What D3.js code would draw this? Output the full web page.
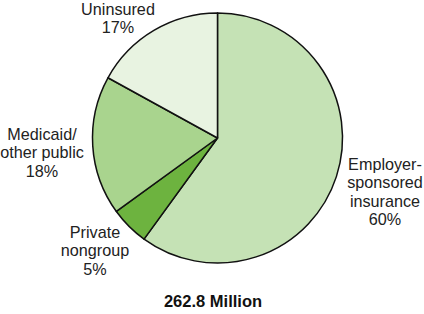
<!DOCTYPE html>
<html><head><meta charset="utf-8">
<script src="https://cdn.jsdelivr.net/npm/d3@7/dist/d3.min.js"></script>
<style>body{margin:0;background:#fff}svg{display:block}text{font-family:"Liberation Sans",Arial,Helvetica,sans-serif}</style>
</head><body><svg id="c" width="424" height="314"></svg>
<script>
const categories = ["Employer-sponsored insurance","Private nongroup","Medicaid/other public","Uninsured"];
const values = [60,5,18,17];
const labelLines = [["Employer-","sponsored","insurance","60%"],["Private","nongroup","5%"],["Medicaid/","other public","18%"],["Uninsured","17%"]];
const colors = ["#c5e2b5","#6db33f","#a9d48e","#e8f3e1"];
const total = "262.8 Million";

const svg = d3.select("#c");
const cx = 217.5, cy = 138, r = 125;
const pie = d3.pie().sort(null).value(d=>d)(values);
const arc = d3.arc().innerRadius(0).outerRadius(r);
const g = svg.append("g").attr("transform",`translate(${cx},${cy})`);
g.selectAll("path").data(pie).join("path")
  .attr("d",arc).attr("fill",(d,i)=>colors[i])
  .attr("stroke","#111").attr("stroke-width",1.5).attr("stroke-linejoin","round");

const labelPos = [[385,170],[95,238],[42,140],[118,15]];
labelLines.forEach((lines,i)=>{
  const t = svg.append("text").attr("text-anchor","middle").attr("font-size",16.2).attr("fill","#222");
  lines.forEach((l,j)=>t.append("tspan").attr("x",labelPos[i][0]).attr("y",labelPos[i][1]+j*18.4).text(l));
});
svg.append("text").attr("x",213).attr("y",307).attr("text-anchor","middle")
  .attr("font-size",16.5).attr("font-weight","bold").attr("fill","#111").text(total);
</script></body></html>
